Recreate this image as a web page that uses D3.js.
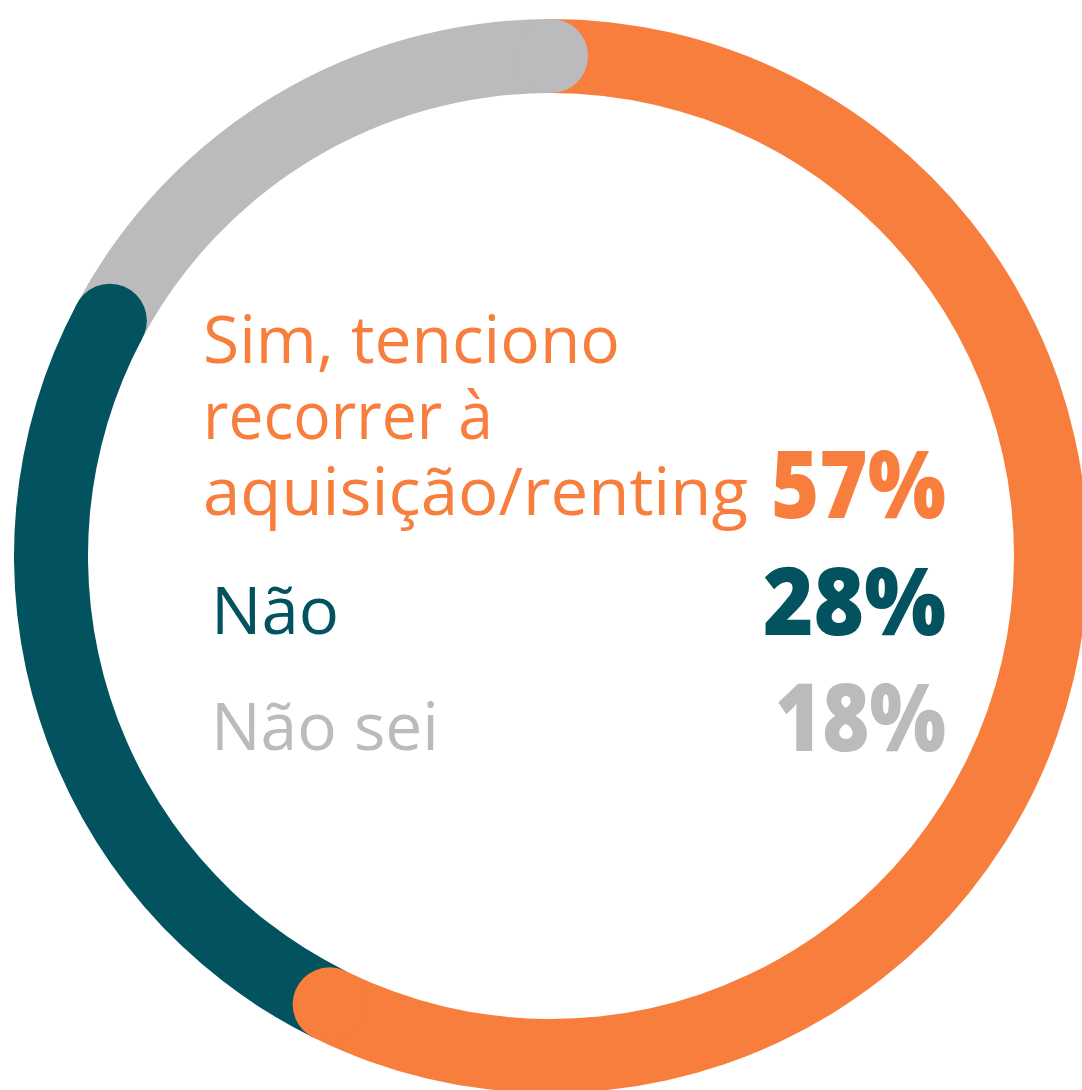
<!DOCTYPE html>
<html>
<head>
<meta charset="utf-8">
<script src="https://cdn.jsdelivr.net/npm/d3@7"></script>
<style>
  html, body { margin: 0; padding: 0; background: #fff; }
  svg { display: block; }
</style>
</head>
<body>
<svg id="chart" width="1082" height="1090"></svg>
<script>
// ---- data ----
const categories = ["Sim, tenciono recorrer à aquisição/renting", "Não", "Não sei"];
const labelLines = [["Sim, tenciono", "recorrer à", "aquisição/renting"], ["Não"], ["Não sei"]];
const percentLabels = ["57%", "28%", "18%"];
const shownValues = [57, 28, 18];           // values printed in the chart
const arcShares = [57.3, 25.5, 17.2];       // arc spans as read from the ring
const colors = ["#F87E3E", "#02535F", "#BBBBBD"];

// ---- layout ----
const svg = d3.select("#chart");
const cx = 551, cy = 556, rInner = 463, rOuter = 537;
const rMid = (rInner + rOuter) / 2, capR = (rOuter - rInner) / 2;

const pie = d3.pie().sort(null).value(d => d.share);
const data = categories.map((c, i) => ({ cat: c, share: arcShares[i], color: colors[i] }));
const arcs = pie(data);
const arcGen = d3.arc().innerRadius(rInner).outerRadius(rOuter);

const g = svg.append("g").attr("transform", `translate(${cx},${cy})`);
g.selectAll("path.seg").data(arcs).join("path")
  .attr("class", "seg")
  .attr("d", arcGen)
  .attr("fill", d => d.data.color);
// rounded end caps (drawn on top so each end covers the next segment's start)
g.selectAll("circle.cap").data(arcs).join("circle")
  .attr("class", "cap")
  .attr("cx", d => rMid * Math.sin(d.endAngle))
  .attr("cy", d => -rMid * Math.cos(d.endAngle))
  .attr("r", capR)
  .attr("fill", d => d.data.color);

// ---- labels ----
const labelX = 203, numX = 946;
const labelFont = "'Open Sans', sans-serif";
const numFont = "'Open Sans', sans-serif";
const firstBaselines = [363, 634, 750];
const lineStep = 76;
const lineWidths = [[417, 290, 545], [128], [228]];
const numWidths = [175, 183, 171];

labelLines.forEach((lines, i) => {
  const t = svg.append("text")
    .attr("font-family", labelFont)
    .attr("font-weight", 400)
    .attr("font-size", 66)
    .attr("fill", colors[i]);
  lines.forEach((s, j) => {
    t.append("tspan")
      .attr("x", i === 0 ? labelX : labelX + 8)
      .attr("y", firstBaselines[i] + j * lineStep)
      .attr("textLength", lineWidths[i][j])
      .attr("lengthAdjust", "spacingAndGlyphs")
      .text(s);
  });
  const lastBase = firstBaselines[i] + (lines.length - 1) * lineStep + (i === 0 ? 3 : 1);
  svg.append("text")
    .attr("x", numX)
    .attr("y", lastBase)
    .attr("text-anchor", "end")
    .attr("font-family", numFont)
    .attr("font-weight", 800)
    .attr("font-size", 94)
    .attr("fill", colors[i])
    .attr("textLength", numWidths[i])
    .attr("lengthAdjust", "spacingAndGlyphs")
    .text(percentLabels[i]);
});
</script>
</body>
</html>
